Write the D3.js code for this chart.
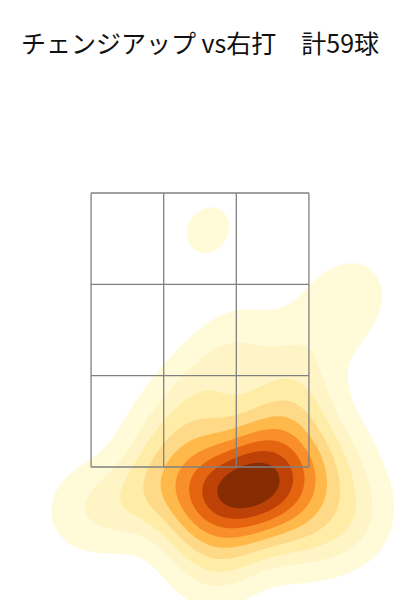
<!DOCTYPE html>
<html>
<head>
<meta charset="utf-8">
<script src="https://cdn.jsdelivr.net/npm/d3@7"></script>
<style>
  body { margin: 0; background: #fff; }
</style>
</head>
<body>
<svg id="chart" width="400" height="600"></svg>
<script>
// pitch locations (ft, catcher view)
const plateX = [
  0.280, 0.195, 0.364, 0.098, 0.455, 0.312, 0.234, 0.000, 0.553, 0.390,
  0.143, 0.403, -0.033, 0.618, 0.260, 0.065, 0.488, 0.325, -0.098, 0.650,
  0.182, 0.520, 0.293, 0.117, 0.585, 0.033, 0.442, 0.715,
  -0.098, 0.000, -0.195, -0.260, 0.033, -0.065, 0.098, 0.260,
  0.390, 0.520, 0.650, 0.358, 0.585, 0.488, 0.683, 0.553, 0.845, 0.988,
  0.052,
  0.878, 0.975, 1.008, 0.813,
  0.000, 0.228, 0.650, 0.130,
  -0.390, -0.585, -0.780, -0.325
];
const plateZ = [
  1.347, 1.318, 1.376, 1.296, 1.405, 1.274, 1.420, 1.318, 1.354, 1.259,
  1.391, 1.464, 1.245, 1.420, 1.201, 1.434, 1.296, 1.493, 1.347, 1.318,
  1.245, 1.493, 1.391, 1.172, 1.223, 1.186, 1.186, 1.391,
  1.551, 1.639, 1.442, 1.770, 1.807, 2.026, 2.208, 2.391,
  1.624, 1.588, 1.661, 1.734, 1.807, 1.916, 2.026, 2.281, 2.573, 2.755,
  3.230,
  1.551, 1.259, 1.040, 1.077,
  0.931, 0.909, 0.967, 0.763,
  1.259, 1.186, 1.223, 1.420
];
// strike zone divisions
const zoneX = [-0.708, -0.236, 0.236, 0.708];
const zoneZ = [1.5, 2.167, 2.833, 3.5];
const titleText = "チェンジアップ vs右打　計59球";

const width = 400, height = 600;
const colors = ["#fffbd8", "#fff4c6", "#ffeca7", "#fed987", "#feb94a",
                "#f88f28", "#e5640f", "#be4207", "#862c03"];

const svg = d3.select("#chart");

const x = d3.scaleLinear().domain([-1.3, 1.3]).range([0, width]);
const y = d3.scaleLinear().domain([0, 4.5]).range([672.5, 56]);

// gaussian kde with scott bandwidth (full covariance), in pixel space
const pts = plateX.map((v, i) => [x(v), y(plateZ[i])]);
const n = pts.length;
const mx = d3.mean(pts, d => d[0]);
const my = d3.mean(pts, d => d[1]);
let sxx = 0, syy = 0, sxy = 0;
pts.forEach(([a, b]) => {
  sxx += (a - mx) ** 2;
  syy += (b - my) ** 2;
  sxy += (a - mx) * (b - my);
});
const f = Math.pow(n, -1 / 3);
const hxx = sxx / (n - 1) * f, hyy = syy / (n - 1) * f, hxy = sxy / (n - 1) * f;
const det = hxx * hyy - hxy * hxy;
const ixx = hyy / det, iyy = hxx / det, ixy = -hxy / det;

const step = 2;
const nx = width / step, ny = height / step;
const grid = new Float64Array(nx * ny);
for (let j = 0; j < ny; j++) {
  const py = (j + 0.5) * step;
  for (let i = 0; i < nx; i++) {
    const px = (i + 0.5) * step;
    let s = 0;
    for (let k = 0; k < n; k++) {
      const dx = px - pts[k][0], dy = py - pts[k][1];
      s += Math.exp(-0.5 * (dx * dx * ixx + 2 * dx * dy * ixy + dy * dy * iyy));
    }
    grid[j * nx + i] = s;
  }
}

// iso-proportion levels like seaborn (levels=10, thresh=0.05)
const sorted = Array.from(grid).sort((a, b) => b - a);
const total = d3.sum(sorted);
const cum = [];
let acc = 0;
for (const v of sorted) { acc += v; cum.push(acc / total); }
const props = d3.range(10).map(i => 0.05 + i * (0.95 / 9));
const levels = props.slice(0, 9).map(p => {
  const idx = d3.bisectLeft(cum, 1 - p);
  return sorted[Math.min(idx, sorted.length - 1)];
});

const contours = d3.contours().size([nx, ny]).thresholds(levels)(grid);
const path = d3.geoPath(d3.geoIdentity().scale(step));

svg.append("g")
  .selectAll("path")
  .data(contours)
  .join("path")
  .attr("d", path)
  .attr("fill", (d, i) => colors[i])
  .attr("stroke", "none");

// strike zone grid
const zone = svg.append("g")
  .attr("stroke", "#808080")
  .attr("stroke-width", 1.3)
  .attr("fill", "none");

zone.selectAll(".vline")
  .data(zoneX)
  .join("line")
  .attr("x1", d => x(d)).attr("x2", d => x(d))
  .attr("y1", y(zoneZ[3])).attr("y2", y(zoneZ[0]));

zone.selectAll(".hline")
  .data(zoneZ)
  .join("line")
  .attr("x1", x(zoneX[0])).attr("x2", x(zoneX[3]))
  .attr("y1", d => y(d)).attr("y2", d => y(d));

svg.append("text")
  .attr("x", width / 2)
  .attr("y", 53)
  .attr("text-anchor", "middle")
  .attr("font-family", "'Noto Sans CJK JP', 'Noto Sans', sans-serif")
  .attr("font-size", 25)
  .attr("fill", "#111")
  .text(titleText);
</script>
</body>
</html>
